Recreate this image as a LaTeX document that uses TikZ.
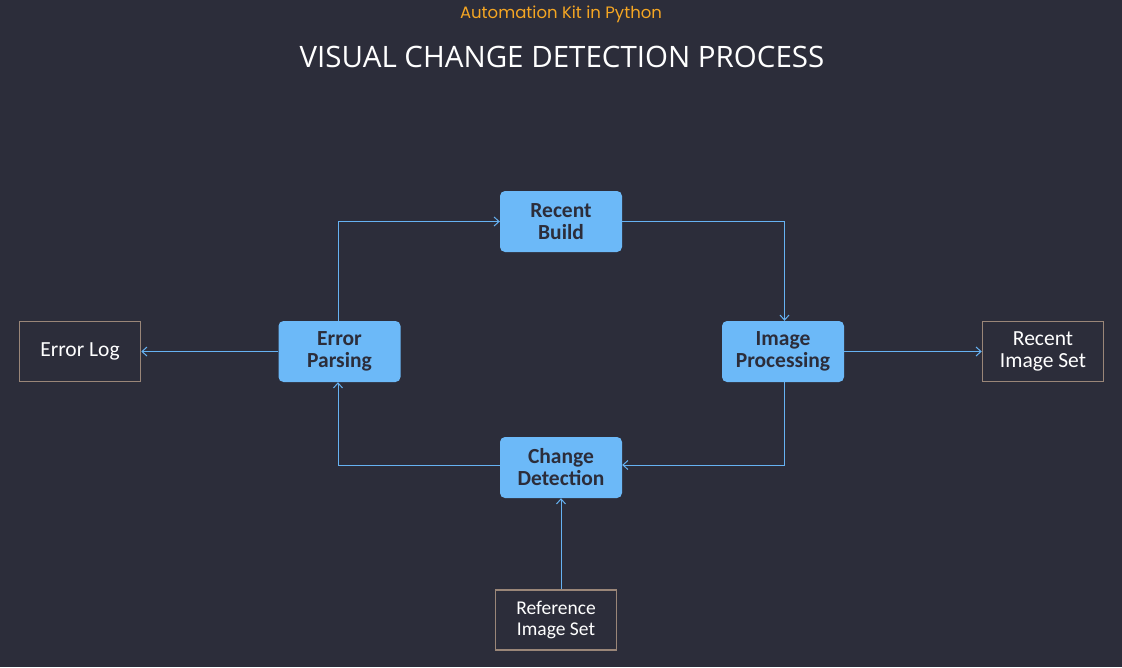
\documentclass[tikz,border=0pt]{standalone}
\usepackage{fontspec}
\setmainfont{Carlito}
\newfontfamily\titlefont{Open Sans}
\newfontfamily\subfont{Poppins}
\usetikzlibrary{arrows.meta}
\definecolor{bg}{HTML}{2C2D3A}
\definecolor{nodeblue}{HTML}{6CB9F8}
\definecolor{edgeblue}{HTML}{66B2F2}
\definecolor{boxborder}{HTML}{9A8678}
\definecolor{subor}{HTML}{F5A623}
\tikzset{
  proc/.style={rectangle, rounded corners=5pt, fill=nodeblue, draw=none,
    minimum width=122pt, minimum height=61pt, inner sep=0pt, align=center,
    text=bg, font=\fontsize{21.5}{22}\selectfont\bfseries},
  datab/.style={rectangle, draw=boxborder, line width=1.5pt, fill=none,
    minimum width=121pt, minimum height=60pt, inner sep=0pt, align=center,
    text=white, font=\fontsize{21.5}{22}\selectfont},
  conn/.style={draw=edgeblue, line width=1pt, -{Straight Barb[length=5pt,width=9pt]}},
}
\begin{document}
\begin{tikzpicture}[x=1pt,y=-1pt]
\fill[bg] (0,0) rectangle (1122,667);
\useasboundingbox (0,0) rectangle (1122,667);
\node[text=subor, font=\subfont\fontsize{16.5}{18}\selectfont] (sub) at (561,14) {Automation Kit in Python};
\node[text=white, font=\titlefont\fontsize{29.5}{32}\selectfont] (title) at (562,57) {VISUAL CHANGE DETECTION PROCESS};

\node[proc] (build) at (561,221.5) {Recent\\Build};
\node[proc] (parse) at (339.5,351.5) {Error\\Parsing};
\node[proc] (imgp) at (783,351.5) {Image\\Processing};
\node[proc] (chg) at (561,467.5) {Change\\Detection};
\node[datab] (elog) at (80,351.5) {Error Log};
\node[datab] (ris) at (1043,351.5) {Recent\\Image Set};
\node[datab, font=\fontsize{19.5}{21.5}\selectfont] (refs) at (556,620) {Reference\\Image Set};

\draw[conn] ([xshift=-1.5pt]parse.north) |- (build.west);
\draw[conn] (build.east) -| ([xshift=1.5pt]imgp.south |- imgp.north);
\draw[conn] ([xshift=1.5pt]imgp.south) |- ([yshift=2.5pt]chg.east);
\draw[conn] ([yshift=2.5pt]chg.west) -| ([xshift=-1.5pt]parse.south);
\draw[conn] (parse.west) -- (elog.east);
\draw[conn] (imgp.east) -- (ris.west);
\draw[conn] (refs.north -| chg.south) -- (chg.south);
\end{tikzpicture}
\end{document}
